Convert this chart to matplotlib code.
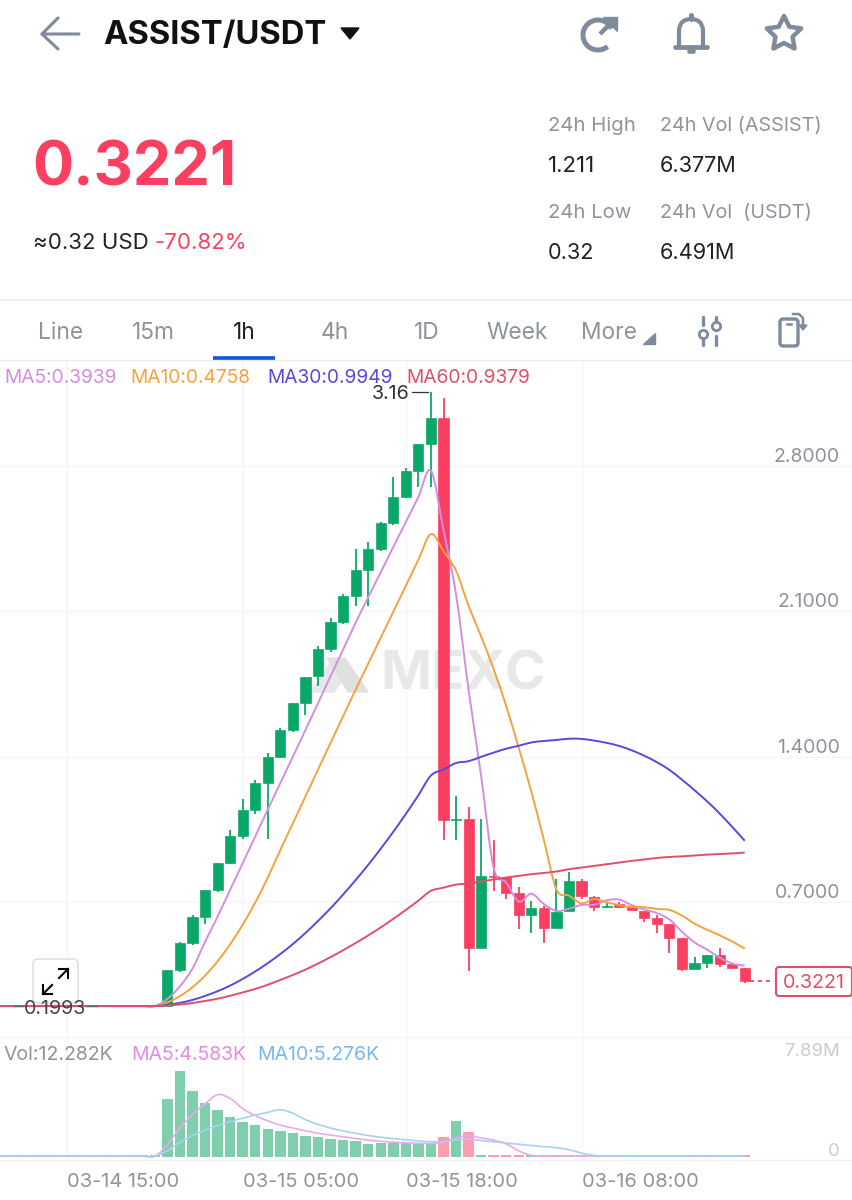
#!/usr/bin/env python3
# -*- coding: utf-8 -*-
import numpy as np
import matplotlib
matplotlib.use("Agg")
import matplotlib.pyplot as plt
from matplotlib.patches import FancyBboxPatch, PathPatch, Polygon, Arc
from matplotlib.path import Path

plt.rcParams['font.family'] = ['Inter', 'DejaVu Sans']

# ---------- candles, index 0 = 03-14 15:00, one candle per hour ----------
hours = list(range(-6, 55))
opens = [0.1993, 0.1993, 0.1993, 0.1993, 0.1993, 0.1993, 0.1993, 0.1993, 0.1993, 0.1993, 0.1993, 0.1993, 0.1993, 0.1993,
         0.199, 0.373, 0.501, 0.629, 0.758, 0.888, 1.018, 1.144, 1.273, 1.399, 1.528, 1.656, 1.788, 1.919, 2.046, 2.173,
         2.298, 2.399, 2.524, 2.649, 2.776, 2.905, 3.029, 1.095, 1.101, 0.479, 0.825, 0.819, 0.742, 0.639, 0.670, 0.577,
         0.657, 0.801, 0.726, 0.678, 0.690, 0.681, 0.658, 0.625, 0.593, 0.527, 0.379, 0.408, 0.447, 0.400, 0.384]
closes = [0.1993, 0.1993, 0.1993, 0.1993, 0.1993, 0.1993, 0.1993, 0.1993, 0.1993, 0.1993, 0.1993, 0.1993, 0.1993, 0.1993,
          0.373, 0.501, 0.629, 0.758, 0.888, 1.018, 1.144, 1.273, 1.399, 1.528, 1.656, 1.784, 1.919, 2.046, 2.173, 2.296,
          2.399, 2.524, 2.649, 2.774, 2.904, 3.029, 1.095, 1.100, 0.479, 0.825, 0.820, 0.745, 0.639, 0.670, 0.577, 0.654,
          0.801, 0.729, 0.675, 0.682, 0.675, 0.662, 0.625, 0.593, 0.527, 0.379, 0.408, 0.447, 0.402, 0.384, 0.3221]
highs = [0.1993, 0.1993, 0.1993, 0.1993, 0.1993, 0.1993, 0.1993, 0.1993, 0.1993, 0.1993, 0.1993, 0.1993, 0.1993, 0.1993,
         0.373, 0.510, 0.640, 0.758, 0.890, 1.047, 1.196, 1.285, 1.416, 1.538, 1.660, 1.784, 1.930, 2.065, 2.180, 2.397,
         2.431, 2.530, 2.747, 2.790, 2.904, 3.156, 3.127, 1.210, 1.156, 1.098, 0.9986, 0.819, 0.771, 0.706, 0.680, 0.809,
         0.846, 0.811, 0.730, 0.697, 0.702, 0.681, 0.658, 0.638, 0.593, 0.527, 0.437, 0.447, 0.477, 0.400, 0.384]
lows = [0.1993, 0.1993, 0.1993, 0.1993, 0.1993, 0.1993, 0.1993, 0.1993, 0.1993, 0.1993, 0.1993, 0.1993, 0.1993, 0.1993,
        0.199, 0.365, 0.492, 0.594, 0.750, 0.885, 1.002, 1.122, 1.002, 1.395, 1.520, 1.600, 1.740, 1.905, 2.040, 2.126,
        2.126, 2.390, 2.515, 2.645, 2.699, 2.699, 0.9986, 0.9986, 0.370, 0.479, 0.752, 0.713, 0.569, 0.552, 0.501, 0.577,
        0.655, 0.713, 0.658, 0.671, 0.670, 0.660, 0.604, 0.549, 0.453, 0.370, 0.379, 0.383, 0.387, 0.382, 0.312]

# ---------- moving averages on price ----------
ma5 = [0.1993, 0.1993, 0.1993, 0.1993, 0.1993, 0.1993, 0.1993, 0.1993, 0.1993, 0.1993, 0.1993, 0.1993, 0.1993, 0.1993,
       0.234, 0.295, 0.380, 0.508, 0.630, 0.759, 0.887, 1.016, 1.145, 1.273, 1.400, 1.528, 1.657, 1.787, 1.915, 2.044,
       2.167, 2.287, 2.409, 2.529, 2.650, 2.776, 2.490, 2.180, 1.721, 1.306, 0.864, 0.794, 0.702, 0.740, 0.690, 0.657,
       0.668, 0.686, 0.687, 0.708, 0.712, 0.685, 0.664, 0.647, 0.616, 0.557, 0.506, 0.471, 0.433, 0.404, 0.3939]
ma10 = [0.1993, 0.1993, 0.1993, 0.1993, 0.1993, 0.1993, 0.1993, 0.1993, 0.1993, 0.1993, 0.1993, 0.1993, 0.1993, 0.1993,
        0.217, 0.247, 0.290, 0.346, 0.415, 0.497, 0.591, 0.698, 0.818, 0.951, 1.079, 1.208, 1.337, 1.466, 1.594, 1.722,
        1.847, 1.972, 2.097, 2.222, 2.347, 2.471, 2.389, 2.294, 2.125, 1.978, 1.820, 1.642, 1.441, 1.231, 0.998, 0.760,
        0.731, 0.694, 0.714, 0.699, 0.685, 0.676, 0.675, 0.667, 0.662, 0.635, 0.596, 0.567, 0.540, 0.510, 0.4758]
ma30 = [0.1993, 0.1993, 0.1993, 0.1993, 0.1993, 0.1993, 0.1993, 0.1993, 0.1993, 0.1993, 0.1993, 0.1993, 0.1993, 0.1993,
        0.205, 0.215, 0.229, 0.248, 0.271, 0.298, 0.330, 0.366, 0.406, 0.450, 0.498, 0.551, 0.609, 0.670, 0.736, 0.806,
        0.879, 0.957, 1.038, 1.124, 1.214, 1.309, 1.338, 1.369, 1.378, 1.399, 1.419, 1.438, 1.452, 1.468, 1.475, 1.480,
        1.486, 1.485, 1.477, 1.466, 1.451, 1.430, 1.404, 1.373, 1.336, 1.289, 1.238, 1.185, 1.126, 1.062, 0.9949]
ma60 = [0.1993, 0.1993, 0.1993, 0.1993, 0.1993, 0.1993, 0.1993, 0.1993, 0.1993, 0.1993, 0.1993, 0.1993, 0.1993, 0.1993,
        0.202, 0.207, 0.214, 0.224, 0.235, 0.249, 0.265, 0.282, 0.302, 0.325, 0.349, 0.375, 0.404, 0.435, 0.468, 0.503,
        0.539, 0.578, 0.619, 0.662, 0.707, 0.754, 0.769, 0.784, 0.789, 0.799, 0.809, 0.818, 0.826, 0.834, 0.840, 0.847,
        0.858, 0.866, 0.874, 0.882, 0.890, 0.898, 0.905, 0.912, 0.917, 0.920, 0.924, 0.928, 0.931, 0.934, 0.9379]

# ---------- volume in millions ----------
volume = [0.10, 0.10, 0.10, 0.10, 0.10, 0.10, 0.10, 0.10, 0.10, 0.10, 0.10, 0.10, 0.10, 0.10,
          5.35, 7.89, 6.09, 4.98, 4.25, 3.60, 3.17, 2.92, 2.52, 2.31, 2.21, 1.91, 1.82, 1.63, 1.51, 1.41,
          1.17, 1.29, 1.26, 1.23, 1.17, 1.11, 1.82, 3.32, 2.22, 0.10, 0.10, 0.10, 0.10, 0.10, 0.10, 0.10,
          0.10, 0.10, 0.10, 0.10, 0.10, 0.10, 0.10, 0.10, 0.10, 0.10, 0.10, 0.10, 0.10, 0.10, 0.10]
vol_ma5 = [0.04, 0.04, 0.04, 0.04, 0.04, 0.04, 0.04, 0.04, 0.04, 0.04, 0.04, 0.04, 0.04, 0.04,
           1.07, 2.65, 3.87, 4.86, 5.71, 5.36, 4.42, 3.78, 3.29, 2.90, 2.63, 2.37, 2.15, 1.98, 1.82, 1.66,
           1.51, 1.40, 1.33, 1.27, 1.22, 1.21, 1.32, 1.73, 1.93, 1.71, 1.51, 1.17, 0.52, 0.10, 0.07, 0.05,
           0.04, 0.04, 0.04, 0.04, 0.04, 0.04, 0.04, 0.04, 0.04, 0.04, 0.04, 0.04, 0.04, 0.04, 0.04]
vol_ma10 = [0.02, 0.02, 0.02, 0.02, 0.02, 0.02, 0.02, 0.02, 0.02, 0.02, 0.02, 0.02, 0.02, 0.02,
            0.54, 1.32, 1.93, 2.43, 2.86, 3.22, 3.53, 3.82, 4.08, 4.31, 3.99, 3.40, 2.97, 2.63, 2.36, 2.14,
            1.94, 1.78, 1.65, 1.54, 1.44, 1.36, 1.36, 1.53, 1.60, 1.47, 1.36, 1.24, 1.13, 1.01, 0.91, 0.81,
            0.63, 0.31, 0.10, 0.04, 0.03, 0.03, 0.03, 0.03, 0.03, 0.03, 0.03, 0.03, 0.03, 0.03, 0.03]

price_ticks = [0.7, 1.4, 2.1, 2.8]
price_tick_labels = ['0.7000', '1.4000', '2.1000', '2.8000']
time_ticks = [0, 14, 27, 41]
time_labels = ['03-14 15:00', '03-15 05:00', '03-15 18:00', '03-16 08:00']

GREEN = '#0AA868'
RED = '#FB3F61'
GRID = '#F3F4F6'
GRAY = '#8E939C'
W, H = 853, 1200


def px_axes(fig, top, bottom, **kw):
    return fig.add_axes([0, 1 - bottom / H, 1, (bottom - top) / H], **kw)


def smooth_line(ax, x, y, color, lw=1.1):
    # same look as the app: curve through the points, not straight segments
    pts = np.column_stack([x, y])
    verts = [pts[0]]
    codes = [Path.MOVETO]
    for i in range(len(pts) - 1):
        a = pts[max(i - 1, 0)]
        b = pts[i]
        c = pts[i + 1]
        d = pts[min(i + 2, len(pts) - 1)]
        verts += [b + (c - a) / 6, c - (d - b) / 6, c]
        codes += [Path.CURVE4, Path.CURVE4, Path.CURVE4]
    ax.add_patch(PathPatch(Path(verts, codes), fill=False, edgecolor=color, lw=lw, zorder=5))


fig = plt.figure(figsize=(W / 100, H / 100), dpi=100, facecolor='white')
xlim = (-67 / 12.55, (W - 67) / 12.55)

# ---------- price panel ----------
ax = px_axes(fig, 360, 1037)
ax.set_xlim(xlim)
ax.set_ylim((1047.5 - 1037) / 207.8, (1047.5 - 360) / 207.8)
ax.set_xticks(time_ticks)
ax.set_xticklabels([])
ax.set_yticks(price_ticks)
ax.set_yticklabels(price_tick_labels)
ax.grid(True, color=GRID, lw=0.9)
ax.set_axisbelow(True)
ax.tick_params(length=0, labelleft=False, labelright=True, pad=-9.4, labelsize=14, labelcolor=GRAY)
for lab in ax.get_yticklabels():
    lab.set_ha('right')
    lab.set_va('bottom')
for s in ax.spines.values():
    s.set_visible(False)
ax.patch.set_alpha(0)

for x, o, c, h, l in zip(hours, opens, closes, highs, lows):
    col = RED if c < o else GREEN
    ax.vlines(x, l, h, color=col, lw=1.3, zorder=3)
    ax.bar(x, abs(c - o), bottom=min(o, c), width=0.81, color=col, edgecolor=col, lw=0.5, zorder=3)

smooth_line(ax, hours, ma5, '#D48EDF', lw=1.4)
smooth_line(ax, hours, ma10, '#F5A23F', lw=1.4)
smooth_line(ax, hours, ma30, '#5A48DE', lw=1.4)
smooth_line(ax, hours, ma60, '#E0506A', lw=1.4)
ax.plot([54.4, 56.3], [closes[-1], closes[-1]], color=RED, lw=1.3, ls=(0, (2.2, 2.2)), zorder=4)

# ---------- volume panel ----------
vx = px_axes(fig, 1037, 1160)
vx.set_xlim(xlim)
vx.set_ylim(-3.5 * 0.0923, 119.5 * 0.0923)
vx.set_xticks(time_ticks)
vx.set_xticklabels(time_labels, ha='left')
vx.set_yticks([])
vx.grid(True, axis='x', color=GRID, lw=0.9)
vx.set_axisbelow(True)
vx.tick_params(length=0, pad=9.5, labelsize=14.4, labelcolor=GRAY)
for s in vx.spines.values():
    s.set_color(GRID)
    s.set_linewidth(0.9)
vx.spines['left'].set_visible(False)
vx.spines['right'].set_visible(False)

bar_cols = ['#FF9DB0' if c < o else '#80CFAC' for o, c in zip(opens, closes)]
vx.bar(hours, volume, width=0.83, color=bar_cols, zorder=3)
smooth_line(vx, hours, vol_ma5, '#EBA9EA', lw=1.2)
smooth_line(vx, hours, vol_ma10, '#A5D2F3', lw=1.2)

# ---------- app chrome, in pixel coordinates ----------
ui = fig.add_axes([0, 0, 1, 1], zorder=10)
ui.set_xlim(0, W)
ui.set_ylim(H, 0)
ui.axis('off')
ui.patch.set_alpha(0)
ICON = '#7F8A9B'

# header
ui.plot([79, 42, 58], [34, 34, 18], color=ICON, lw=2.2, solid_capstyle='round', solid_joinstyle='round')
ui.plot([42, 58], [34, 49], color=ICON, lw=2.2, solid_capstyle='round')
ui.text(103, 36, 'ASSIST/USDT', fontsize=23.6, fontweight='bold', color='#111111', va='center')
ui.add_patch(Polygon([[341, 28], [359, 28], [350, 39]], closed=True, color='#111111'))

ui.add_patch(Arc((598, 35), 30, 30, theta1=-310, theta2=-25, color=ICON, lw=3.6))
ui.plot([600, 611], [34, 23], color=ICON, lw=3.2, solid_capstyle='butt')
ui.add_patch(Polygon([[603, 17], [617, 17], [617, 31]], closed=True, color=ICON))

bell = Path([(679, 47), (679, 30), (680, 19), (691, 19), (702, 19), (703, 30), (703, 47)],
            [Path.MOVETO, Path.LINETO, Path.CURVE3, Path.CURVE3, Path.CURVE3, Path.CURVE3, Path.LINETO])
ui.add_patch(PathPatch(bell, fill=False, edgecolor=ICON, lw=3))
ui.plot([675, 707], [47, 47], color=ICON, lw=3.4, solid_capstyle='round')
ui.plot([691, 691], [15, 19], color=ICON, lw=3.6, solid_capstyle='round')
ui.plot([689, 693], [51, 51], color=ICON, lw=3.4, solid_capstyle='round')

star_ang = np.deg2rad(np.arange(10) * 36 - 90)
star_r = np.array([18, 9] * 5)
ui.add_patch(Polygon(np.column_stack([784 + star_r * np.cos(star_ang), 34 + star_r * np.sin(star_ang)]),
                     closed=True, fill=False, edgecolor=ICON, lw=3.2, joinstyle='round'))

# price block
ui.text(32, 169, '0.3221', fontsize=44, fontweight='bold', color=RED, va='center')
ui.text(33, 243, '≈0.32 USD', fontsize=16, color='#222222', va='center')
ui.text(155, 243, '-70.82%', fontsize=16, color=RED, va='center')

for x, y, s, col, fs in [(548, 126, '24h High', GRAY, 14.6), (660, 126, '24h Vol (ASSIST)', GRAY, 14.2),
                         (548, 166, '1.211', '#222222', 16), (660, 166, '6.377M', '#222222', 15.6),
                         (548, 213, '24h Low', GRAY, 14.6), (660, 213, '24h Vol  (USDT)', GRAY, 14.2),
                         (548, 253, '0.32', '#222222', 15.6), (660, 253, '6.491M', '#222222', 15.6)]:
    ui.text(x, y, s, fontsize=fs, color=col, va='center')

# tabs
ui.plot([0, W], [300, 300], color='#ECEDEF', lw=1.6)
ui.plot([0, W], [360, 360], color='#ECEDEF', lw=1)
for x, s in [(61, 'Line'), (153, '15m'), (335, '4h'), (427, '1D'), (517, 'Week'), (609, 'More')]:
    ui.text(x, 333, s, fontsize=16.4, color=GRAY, ha='center', va='center')
ui.text(244, 333, '1h', fontsize=16.4, color='#222222', ha='center', va='center')
ui.plot([213, 275], [358, 358], color='#0B57E0', lw=2.6, solid_capstyle='butt')
ui.add_patch(Polygon([[643, 344], [655, 344], [655, 333]], closed=True, color=ICON))

# sliders icon
for x, y0, y1, y2, y3, dot in [(703, 317, 325, 340, 345, 334), (716, 317, 321, 336, 345, 326)]:
    ui.plot([x, x], [y0, y1], color=ICON, lw=2.4, solid_capstyle='round')
    ui.plot([x, x], [y2, y3], color=ICON, lw=2.4, solid_capstyle='round')
    ui.plot([x], [dot], 'o', ms=6, mfc='white', mec=ICON, mew=2)
# rotate icon
ui.add_patch(FancyBboxPatch((780, 319), 18, 27, boxstyle='round,pad=0,rounding_size=3',
                            fill=False, edgecolor=ICON, lw=2.4))
ui.plot([787, 791], [324, 324], color=ICON, lw=1.8)
ui.plot([793, 799, 803, 803], [314, 314, 318, 326], color=ICON, lw=1.8, solid_joinstyle='round')
ui.add_patch(Polygon([[799, 325], [807, 325], [803, 330]], closed=True, color=ICON))

# legends
for x, s, col in [(4, 'MA5:0.3939', '#D48EDF'), (130, 'MA10:0.4758', '#F5A23F'),
                  (267, 'MA30:0.9949', '#5A48DE'), (406, 'MA60:0.9379', '#E0506A')]:
    ui.text(x, 378, s, fontsize=13.8, color=col, va='center')
for x, s, col in [(4, 'Vol:12.282K', GRAY), (131, 'MA5:4.583K', '#E58BE3'), (257, 'MA10:5.276K', '#79B8EC')]:
    ui.text(x, 1055, s, fontsize=14, color=col, va='center')
ui.text(840, 1051, '7.89M', fontsize=13.4, color='#C9CCD1', ha='right', va='center')
ui.text(840, 1151, '0', fontsize=13.4, color='#C9CCD1', ha='right', va='center')

# extreme labels
ui.text(410, 394, '3.16', fontsize=14.2, color='#333333', ha='right', va='center')
ui.plot([412, 428], [392, 392], color='#333333', lw=0.9)
ui.text(55, 1009, '0.1993', fontsize=14.2, color='#444444', ha='center', va='center')
ui.plot([13, 23], [1006, 1006], color='#666666', lw=0.9)
ui.plot([87, 97], [1006, 1006], color='#666666', lw=0.9)

# last price tag
ui.add_patch(FancyBboxPatch((776, 967), 76, 29, boxstyle='round,pad=0,rounding_size=3',
                            facecolor='white', edgecolor='#E0506A', lw=1.5))
ui.text(814, 983, '0.3221', fontsize=14.2, color='#E0506A', ha='center', va='center')

# fullscreen button, the 0.1993 label runs over its lower edge
btn = FancyBboxPatch((33, 959), 45, 44, boxstyle='round,pad=0,rounding_size=5',
                     facecolor='white', edgecolor='#DCDDE0', lw=1.2, alpha=0.9, zorder=0.5)
ui.add_patch(btn)
ui.plot([59, 68, 68], [969, 969, 978], color='black', lw=1.5)
ui.plot([59, 68], [978, 969], color='black', lw=1.5)
ui.plot([43, 43, 52], [985, 994, 994], color='black', lw=1.5)
ui.plot([43, 52], [994, 985], color='black', lw=1.5)

# watermark, sits under the candles
ax.text(380, 676, 'MEXC', transform=ui.transData, fontsize=39.5, fontweight='bold', color='#E8E8E8',
        va='center', zorder=1)
ax.add_patch(Polygon([[310, 692], [334, 658], [346, 676], [334, 692]], closed=True, color='#E8E8E8',
                     transform=ui.transData, zorder=1))
ax.add_patch(Polygon([[327, 658], [345, 658], [368, 692], [348, 692]], closed=True, color='#E0E0E0',
                     transform=ui.transData, zorder=1))

fig.savefig('out.png', dpi=100)
